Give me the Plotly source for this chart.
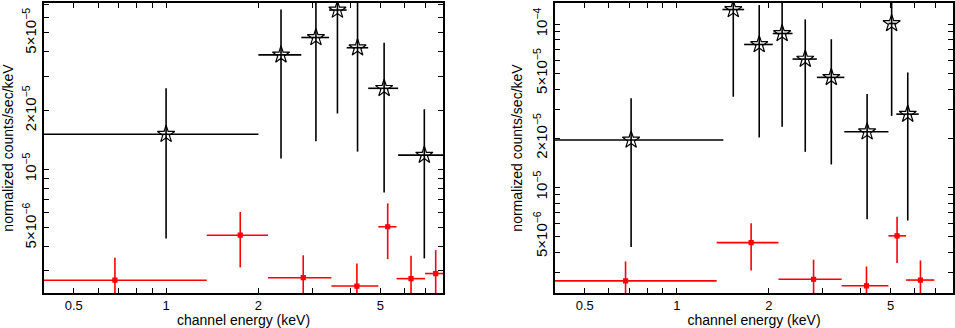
import plotly.graph_objects as go

# ---- left spectrum ----
left_src_energy = [1.00, 2.37, 3.08, 3.62, 4.21, 5.14, 6.95]
left_src_energy_lo = [0.30, 2.00, 2.76, 3.40, 3.88, 4.56, 5.71]
left_src_energy_hi = [2.00, 2.76, 3.40, 3.88, 4.56, 5.71, 8.50]
left_src_rate = [1.51e-5, 3.86e-5, 4.74e-5, 6.56e-5, 4.20e-5, 2.60e-5, 1.18e-5]
left_src_rate_lo = [4.41e-6, 1.135e-5, 1.39e-5, 1.93e-5, 1.23e-5, 7.59e-6, 3.48e-6]
left_src_rate_hi = [2.60e-5, 6.60e-5, 8.5e-5, 8.5e-5, 8.5e-5, 4.46e-5, 2.03e-5]

left_bkg_energy = [0.681, 1.745, 2.80, 4.19, 5.28, 6.29, 7.57]
left_bkg_energy_lo = [0.30, 1.357, 2.15, 3.46, 4.92, 5.64, 6.99]
left_bkg_energy_hi = [1.357, 2.15, 3.46, 4.92, 5.64, 6.99, 8.50]
left_bkg_rate = [2.69e-6, 4.58e-6, 2.77e-6, 2.51e-6, 5.06e-6, 2.74e-6, 2.91e-6]
left_bkg_rate_lo = [2.0e-6, 3.13e-6, 2.0e-6, 2.0e-6, 3.45e-6, 2.0e-6, 2.0e-6]
left_bkg_rate_hi = [3.51e-6, 6.03e-6, 3.61e-6, 3.28e-6, 6.67e-6, 3.59e-6, 3.84e-6]

# ---- right spectrum ----
right_src_energy = [0.709, 1.53, 1.86, 2.21, 2.63, 3.20, 4.19, 5.04, 5.69]
right_src_energy_lo = [0.30, 1.41, 1.66, 2.06, 2.39, 2.87, 3.53, 4.92, 5.22]
right_src_energy_hi = [1.42, 1.66, 2.06, 2.39, 2.87, 3.53, 4.92, 5.22, 6.18]
right_src_rate = [1.95e-5, 1.23e-4, 7.51e-5, 8.77e-5, 6.11e-5, 4.72e-5, 2.19e-5, 1.01e-4, 2.81e-5]
right_src_rate_lo = [4.3e-6, 3.59e-5, 2.02e-5, 2.35e-5, 1.65e-5, 1.38e-5, 6.37e-6, 2.74e-5, 6.25e-6]
right_src_rate_hi = [3.51e-5, 1.6e-4, 1.31e-4, 1.6e-4, 1.07e-4, 8.09e-5, 3.73e-5, 1.6e-4, 5.06e-5]

right_bkg_energy = [0.680, 1.75, 2.80, 4.17, 5.25, 6.26]
right_bkg_energy_lo = [0.30, 1.35, 2.15, 3.46, 4.92, 5.62]
right_bkg_energy_hi = [1.35, 2.15, 3.46, 4.92, 5.62, 6.95]
right_bkg_rate = [2.67e-6, 4.58e-6, 2.73e-6, 2.49e-6, 5.04e-6, 2.70e-6]
right_bkg_rate_lo = [2.0e-6, 3.09e-6, 2.0e-6, 2.0e-6, 3.43e-6, 2.0e-6]
right_bkg_rate_hi = [3.51e-6, 6.03e-6, 3.6e-6, 3.27e-6, 6.61e-6, 3.56e-6]

# ---- ticks ----
x_tickvals = [0.5, 1, 2, 5]
x_ticktext = ["0.5", "1", "2", "5"]
x_minor = [0.4, 0.6, 0.7, 0.8, 0.9, 3, 4, 6, 7, 8]

left_y_tickvals = [5e-6, 1e-5, 2e-5, 5e-5]
left_y_ticktext = ["5×10<sup>−6</sup>", "10<sup>−5</sup>", "2×10<sup>−5</sup>", "5×10<sup>−5</sup>"]
right_y_tickvals = [5e-6, 1e-5, 2e-5, 5e-5, 1e-4]
right_y_ticktext = ["5×10<sup>−6</sup>", "10<sup>−5</sup>", "2×10<sup>−5</sup>", "5×10<sup>−5</sup>", "10<sup>−4</sup>"]
y_minor = [3e-6, 4e-6, 6e-6, 7e-6, 8e-6, 9e-6, 3e-5, 4e-5, 6e-5, 7e-5, 8e-5, 9e-5]

FONT = "Liberation Sans, Arial, sans-serif"


def add_points(fig, e, e_lo, e_hi, r, r_lo, r_hi, color, symbol, size, xa, ya):
    fig.add_trace(go.Scatter(
        x=e, y=r, mode="markers",
        xaxis=xa, yaxis=ya,
        marker=dict(symbol=symbol, size=size, color=color,
                    line=dict(color=color, width=1.2)),
        error_x=dict(type="data", symmetric=False,
                     array=[h - v for h, v in zip(e_hi, e)],
                     arrayminus=[v - l for v, l in zip(e, e_lo)],
                     color=color, thickness=1.6, width=0),
        error_y=dict(type="data", symmetric=False,
                     array=[h - v for h, v in zip(r_hi, r)],
                     arrayminus=[v - l for v, l in zip(r, r_lo)],
                     color=color, thickness=1.6, width=0),
        showlegend=False,
    ))


fig = go.Figure()

add_points(fig, left_src_energy, left_src_energy_lo, left_src_energy_hi,
           left_src_rate, left_src_rate_lo, left_src_rate_hi,
           "black", "star-open", 13, "x", "y")
add_points(fig, left_bkg_energy, left_bkg_energy_lo, left_bkg_energy_hi,
           left_bkg_rate, left_bkg_rate_lo, left_bkg_rate_hi,
           "#ff0000", "square", 4, "x", "y")
add_points(fig, right_src_energy, right_src_energy_lo, right_src_energy_hi,
           right_src_rate, right_src_rate_lo, right_src_rate_hi,
           "black", "star-open", 13, "x2", "y2")
add_points(fig, right_bkg_energy, right_bkg_energy_lo, right_bkg_energy_hi,
           right_bkg_rate, right_bkg_rate_lo, right_bkg_rate_hi,
           "#ff0000", "square", 4, "x2", "y2")

common = dict(
    showgrid=False, zeroline=False, showline=True, linecolor="black", linewidth=1.5,
    mirror="allticks", ticks="inside", ticklen=5, tickwidth=1, tickcolor="black",
    tickfont=dict(family=FONT, size=13, color="black"),
    title_font=dict(family=FONT, size=14, color="black"),
    automargin=False,
)

xcommon = dict(common, type="log", range=[-0.398, 0.903],
               tickvals=x_tickvals, ticktext=x_ticktext,
               minor=dict(tickvals=x_minor, ticks="inside", ticklen=5, tickcolor="black"),
               title_text="channel energy (keV)", title_standoff=2)

ycommon = dict(common, type="log", domain=[0.1067, 0.9909], tickangle=-90,
               tickfont=dict(family=FONT, size=15, color="black"),
               minor=dict(tickvals=y_minor, ticks="inside", ticklen=5, tickcolor="black"),
               title_text="normalized counts/sec/keV", title_standoff=5)

fig.update_layout(
    width=955, height=328,
    margin=dict(l=0, r=0, t=0, b=0),
    paper_bgcolor="white", plot_bgcolor="white",
    xaxis=dict(xcommon, domain=[0.0461, 0.4639], anchor="y"),
    xaxis2=dict(xcommon, domain=[0.5812, 0.9979], anchor="y2"),
    yaxis=dict(ycommon, range=[-5.636, -4.147], anchor="x",
               tickvals=left_y_tickvals, ticktext=left_y_ticktext),
    yaxis2=dict(ycommon, range=[-5.648, -3.870], anchor="x2",
                tickvals=right_y_tickvals, ticktext=right_y_ticktext),
)

# page body margin would push the fixed-size figure off the window
fig.write_html("out.html", config={"displayModeBar": False},
               post_script="document.body.style.margin='0';")
